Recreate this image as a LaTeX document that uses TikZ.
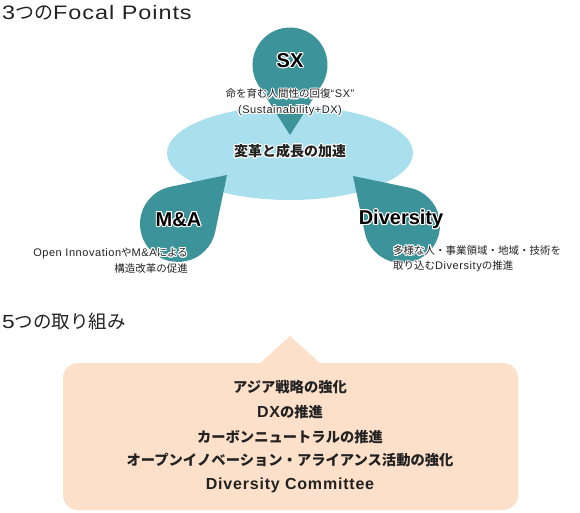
\documentclass[tikz,border=0pt]{standalone}
\usepackage{fontspec}
\setmainfont{Noto Sans CJK JP}
\newfontfamily\lat{Liberation Sans}[LetterSpace=5]
\newfontfamily\latw{Liberation Sans}[FakeStretch=1.2, LetterSpace=5]
\newfontfamily\labfont{Liberation Sans}
\usepackage{contour}
\contourlength{1.1pt}
\contournumber{12}
\definecolor{tealdrop}{HTML}{3D939A}
\definecolor{sky}{HTML}{AADFED}
\definecolor{peach}{HTML}{FDE0C9}
\definecolor{ink}{HTML}{222222}
% teardrop: centre x, centre y, radius, tip distance, tip direction
\newcommand\teardrop[5]{%
  \begin{scope}[shift={(#1,#2)}, rotate=#5]
    \pgfmathsetmacro\dropang{acos(#3/#4)}
    \fill[tealdrop] (#4pt,0pt) -- (\dropang:#3pt)
      arc[start angle=\dropang, end angle=360-\dropang, radius=#3pt] -- cycle;
  \end{scope}}
\newcommand\nl[1]{{\lat\fontsize{11}{15.5}\selectfont #1}}
\newcommand\il[1]{{\lat\fontsize{16}{18}\selectfont #1}}
\begin{document}
\begin{tikzpicture}[x=1pt,y=1pt]
\tikzset{
  heading/.style={anchor=west, font=\fontsize{19}{22}\selectfont, text=ink, inner sep=0pt},
  droplabel/.style={font=\labfont\fontsize{20}{22}\selectfont\bfseries, text=black, inner sep=0pt},
  note/.style={font=\fontsize{10.5}{15.5}\selectfont, text=ink, inner sep=0pt},
  core/.style={font=\fontsize{14}{16}\selectfont\bfseries, text=ink, inner sep=0pt},
  item/.style={font=\fontsize{14.3}{16}\selectfont\bfseries, text=ink, inner sep=0pt},
}
\useasboundingbox (0,0) rectangle (580,-512);

\node[heading] (t1) at (2,-13) {{\latw\fontsize{19.5}{22}\selectfont 3}つの{\latw\fontsize{19.5}{22}\selectfont Focal Points}};

% central ellipse
\fill[sky] (290,-153) ellipse[x radius=123pt, y radius=47pt];

% three drops
\teardrop{290}{-65}{37.5}{70}{-90}
\teardrop{178}{-224}{38}{69.3}{45}
\teardrop{402}{-225}{38}{69.3}{135}

\node[droplabel] (sx) at (290,-61) {\contour{white}{SX}};
\node[note, align=center] (sxn) at (290,-103)
  {\contour{white}{命を育む人間性の回復\nl{“SX”}}\\\contour{white}{\nl{(Sustainability+DX)}}};
\node[core] (ctr) at (290,-152) {\contour{white}{変革と成長の加速}};
\node[droplabel] (ma) at (178.5,-220) {\contour{white}{M\&A}};
\node[droplabel] (dv) at (401,-220) {\contour{white}{Diversity}};
\node[note, align=right, anchor=east] (man) at (188,-261)
  {\contour{white}{\nl{Open Innovation}や\nl{M\&A}による}\\\contour{white}{構造改革の促進}};
\node[note, align=left, anchor=west] (dvn) at (393,-259.5)
  {\contour{white}{多様な人・事業領域・地域・技術を}\\\contour{white}{取り込む\nl{Diversity}の推進}};

\node[heading] (t2) at (2,-321) {{\latw\fontsize{19}{22}\selectfont 5}{\fontsize{18.5}{22}\selectfont つの取り組み}};

% callout box
\fill[peach, rounded corners=15pt] (63,-363) rectangle (518,-510);
\fill[peach] (259,-364) -- (290,-336) -- (321,-364) -- cycle;

\node[item] (i1) at (290,-387) {アジア戦略の強化};
\node[item] (i2) at (290,-412) {\il{DX}の推進};
\node[item] (i3) at (290,-437) {カーボンニュートラルの推進};
\node[item] (i4) at (290,-460.5) {オープンイノベーション・アライアンス活動の強化};
\node[item] (i5) at (290,-485) {\il{Diversity Committee}};
\end{tikzpicture}
\end{document}
